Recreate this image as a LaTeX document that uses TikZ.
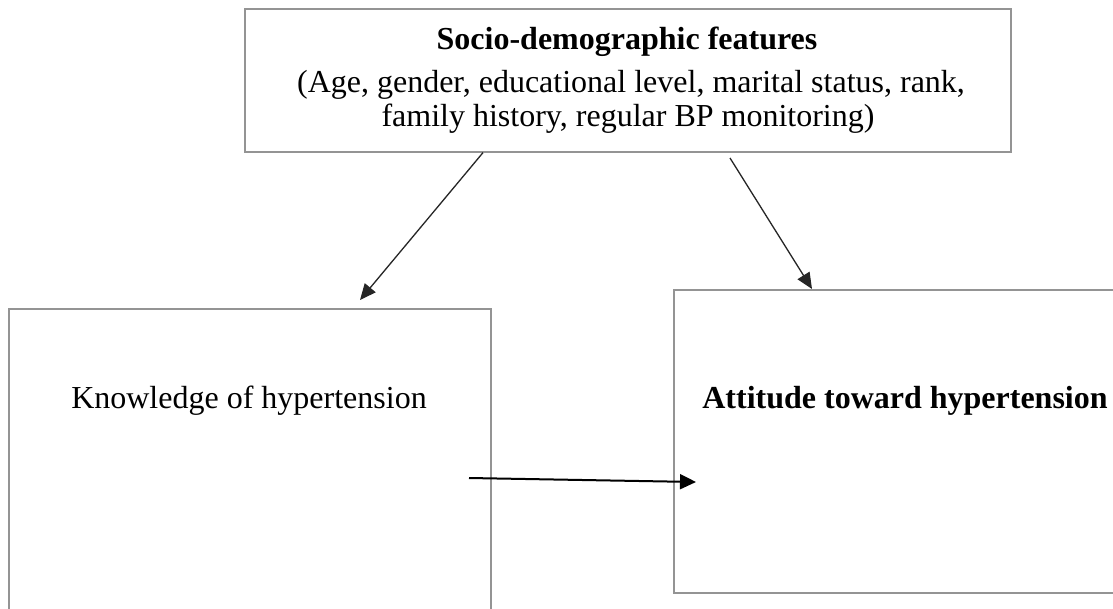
\documentclass[tikz,border=0pt]{standalone}
\usepackage{fontspec}
\setmainfont{Liberation Serif}
\usetikzlibrary{arrows.meta,calc}
\begin{document}
\begin{tikzpicture}[x=1pt,y=-1pt,
  box/.style={draw=black!42, line width=1.6pt, inner sep=0pt, anchor=north west},
  txt/.style={inner sep=0pt, anchor=base, font=\fontsize{32}{35}\selectfont},
  thinarr/.style={draw=black!85, line width=1.3pt, -{Triangle[length=16pt,width=14pt]}},
  thickarr/.style={draw=black, line width=2pt, -{Triangle[length=16pt,width=15pt]}}]
\useasboundingbox (0,0) rectangle (1113,608);
\clip (0,0) rectangle (1113,608);
\fill[white] (0,0) rectangle (1113,608);
% boxes
\node[box, minimum width=766pt, minimum height=143pt] (top) at (244,8) {};
\node[box, minimum width=482pt, minimum height=330pt] (kn) at (8,308) {};
\node[box, minimum width=470pt, minimum height=303pt] (at) at (673,289) {};
% texts
\node[txt, font=\fontsize{32}{35}\selectfont\bfseries] (h1) at (627,49) {Socio-demographic features};
\node[txt] (h2) at (631,92) {(Age, gender, educational level, marital status, rank,};
\node[txt] (h3) at (628,126) {family history, regular BP monitoring)};
\node[txt] (kt) at (249,408) {Knowledge of hypertension};
\node[txt, font=\fontsize{32}{35}\selectfont\bfseries] (att) at (905,408) {Attitude toward hypertension};
% connectors
\coordinate (p1) at (360,300);
\coordinate (p2) at (730,158);
\coordinate (p3) at (469,478);
\coordinate (p4) at (696,482);
\draw[thinarr] ($(top.south west)+(239,0)$) -- (p1);
\draw[thinarr] (p2) -- ($(at.north west)+(139,0)$);
\draw[thickarr] (p3) -- (p4);
\end{tikzpicture}
\end{document}
